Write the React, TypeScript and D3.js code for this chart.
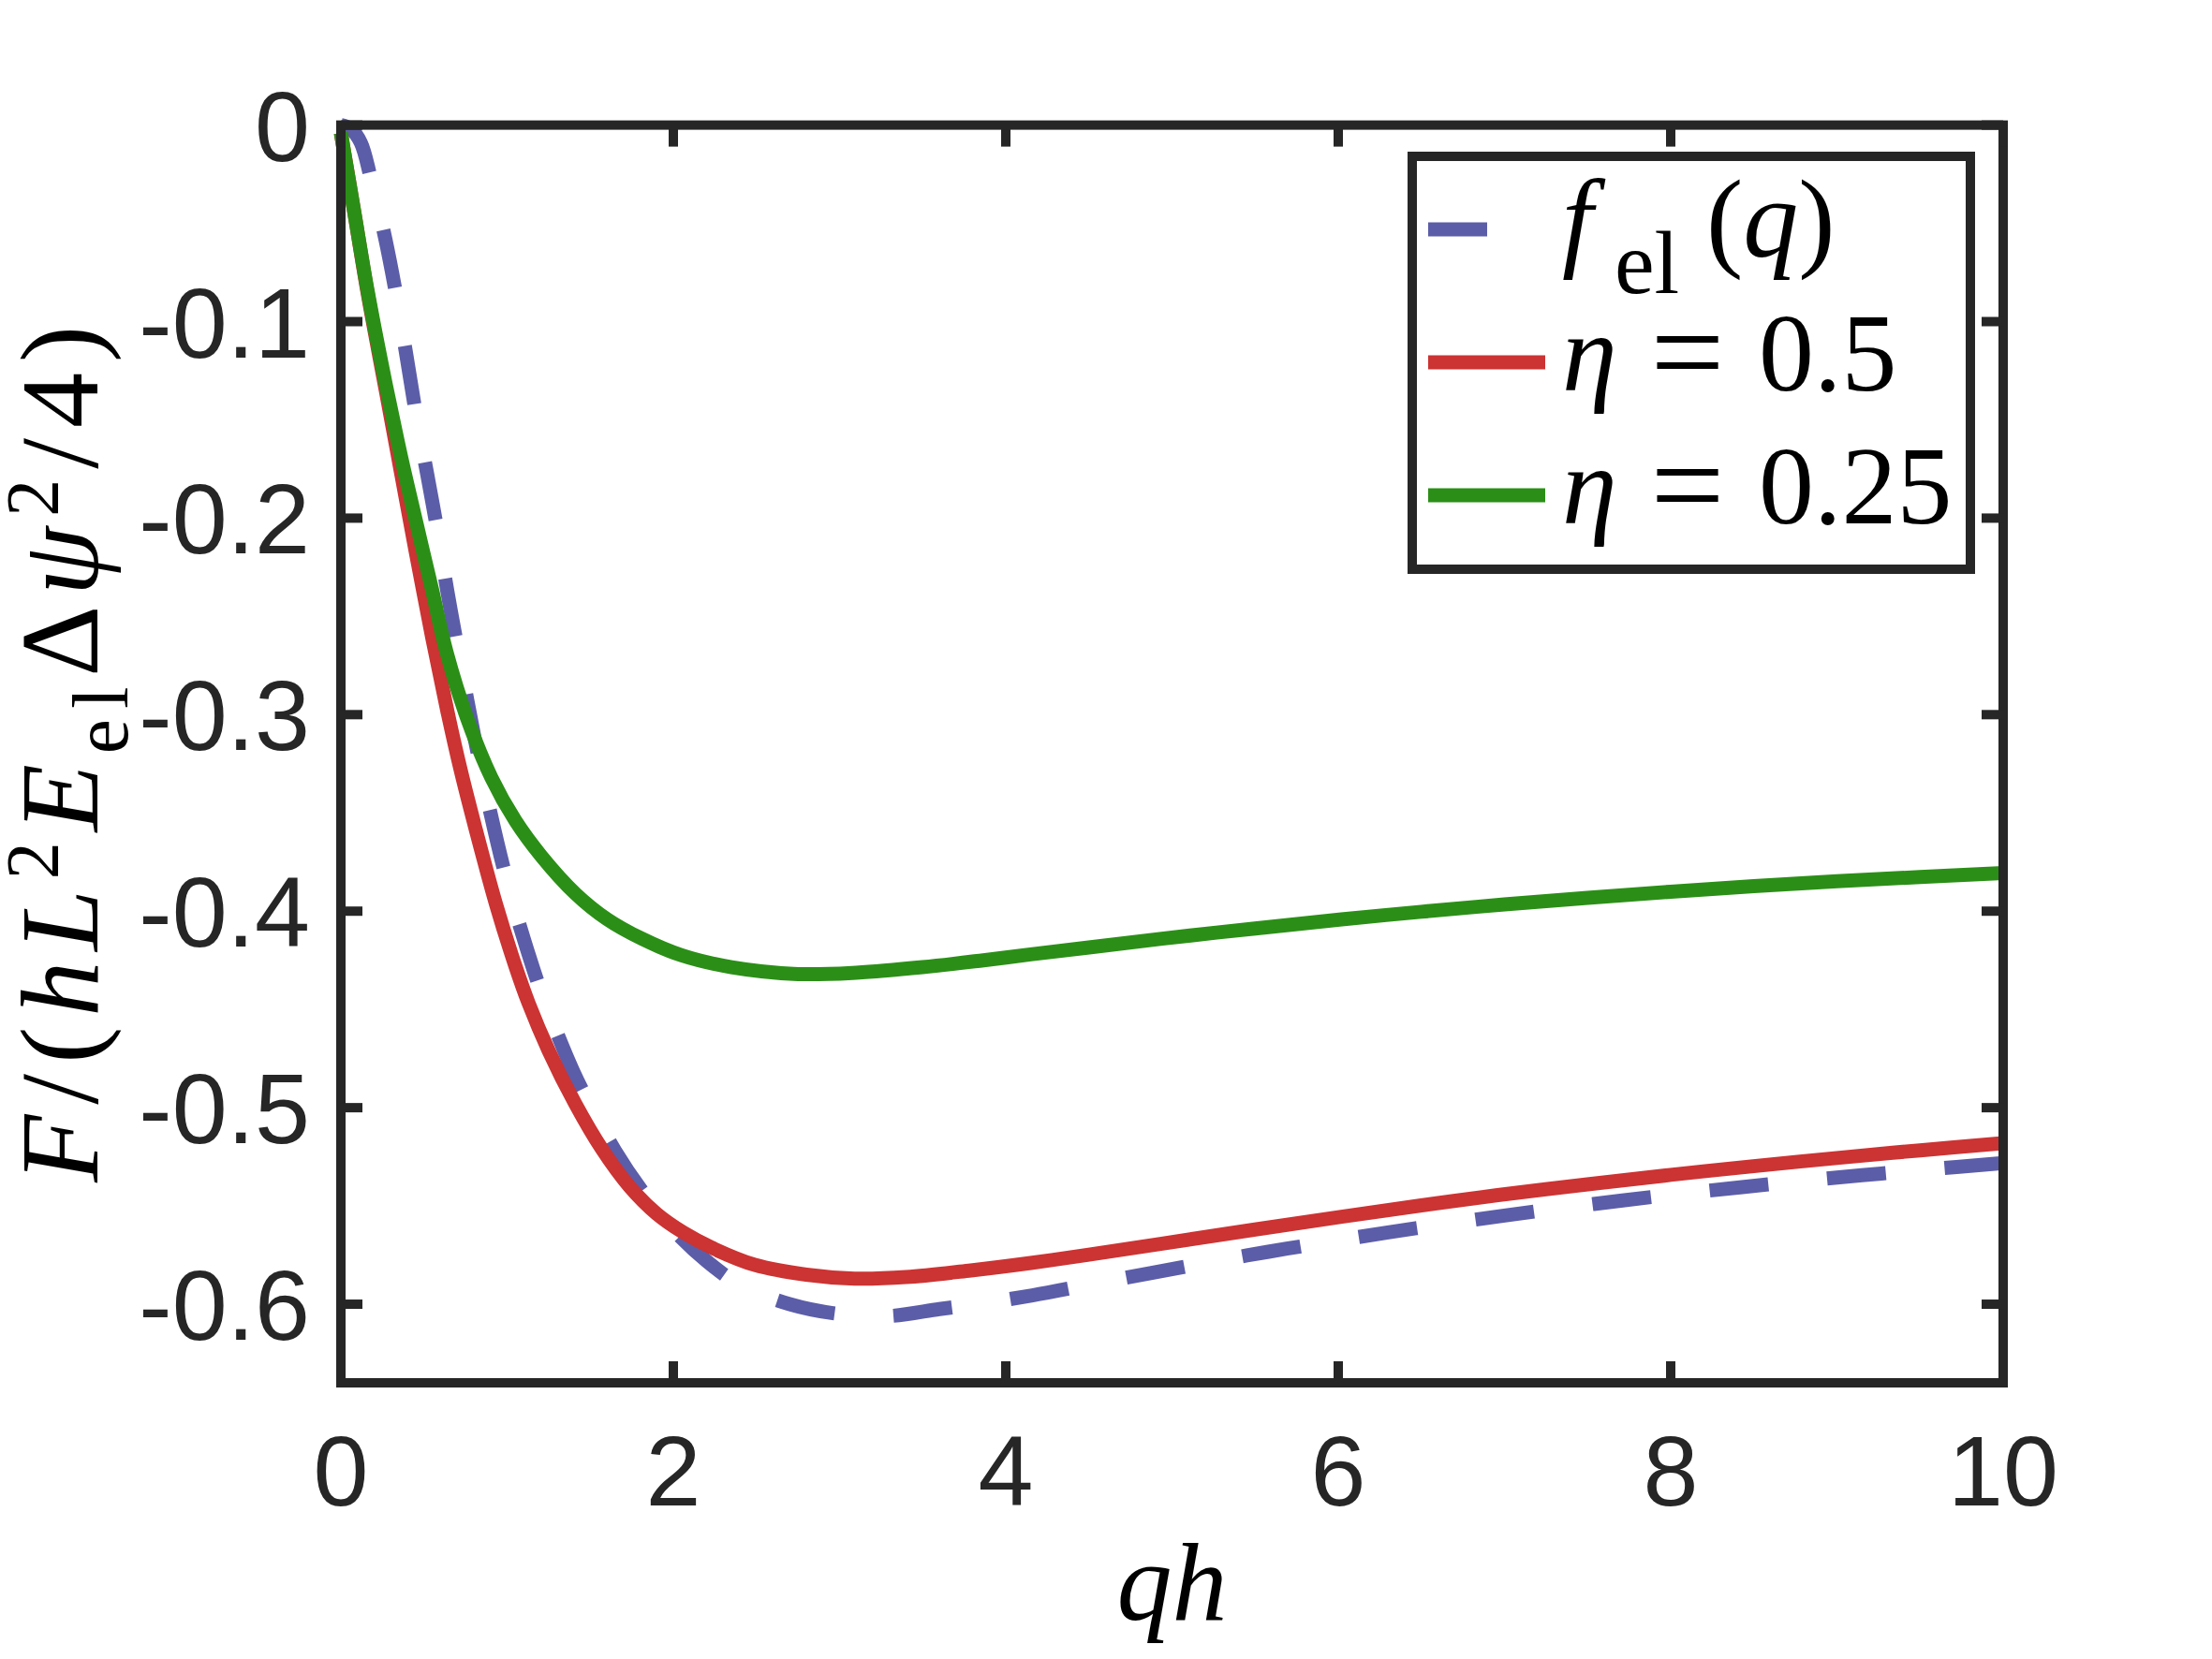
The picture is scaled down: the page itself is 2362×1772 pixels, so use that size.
import * as d3 from "d3";

// f_el(q), dashed reference curve
const felQ = [0, 0.06, 0.12, 0.18, 0.26, 0.33, 0.39, 0.45, 0.52, 0.58, 0.64, 0.7, 0.8, 0.9, 1.0, 1.1, 1.2, 1.3, 1.4, 1.5, 1.65, 1.8, 2.0, 2.2, 2.4, 2.7, 3.0, 3.3, 3.6, 3.8, 4.16, 4.5, 4.87, 5.22, 5.58, 5.94, 6.29, 6.65, 7.0, 7.36, 7.71, 8.07, 8.43, 8.79, 9.15, 9.51, 10];
const felF = [0, -0.002, -0.009, -0.027, -0.055, -0.085, -0.115, -0.146, -0.178, -0.206, -0.237, -0.265, -0.31, -0.35, -0.385, -0.414, -0.44, -0.462, -0.482, -0.499, -0.522, -0.541, -0.562, -0.578, -0.59, -0.6, -0.605, -0.606, -0.6025, -0.6003, -0.5955, -0.5901, -0.5842, -0.5787, -0.5733, -0.5683, -0.5636, -0.5591, -0.5549, -0.5509, -0.5472, -0.5437, -0.5404, -0.5373, -0.5344, -0.5317, -0.5282];

// eta = 0.5
const eta05Q = [0, 0.08, 0.16, 0.27, 0.36, 0.45, 0.55, 0.64, 0.72, 0.81, 0.935, 1.05, 1.13, 1.25, 1.41, 1.57, 1.735, 1.9, 2.06, 2.25, 2.49, 2.8, 3.09, 3.4, 3.79, 4.15, 4.5, 4.94, 5.5, 6.02, 6.5, 6.96, 7.5, 8.0, 8.47, 9.0, 9.5, 10];
const eta05F = [-0.004, -0.044, -0.085, -0.135, -0.176, -0.217, -0.261, -0.298, -0.328, -0.358, -0.397, -0.428, -0.447, -0.471, -0.498, -0.521, -0.54, -0.554, -0.5635, -0.572, -0.58, -0.585, -0.587, -0.5862, -0.5828, -0.579, -0.5748, -0.5692, -0.562, -0.5555, -0.5497, -0.5445, -0.539, -0.5342, -0.53, -0.5256, -0.5217, -0.518];

// eta = 0.25
const eta025Q = [0, 0.08, 0.16, 0.27, 0.36, 0.45, 0.55, 0.635, 0.76, 0.905, 1.05, 1.206, 1.41, 1.6, 1.81, 2.05, 2.35, 2.75, 3.1, 3.5, 3.865, 4.15, 4.5, 4.94, 5.5, 6.02, 6.5, 7.0, 7.5, 8.0, 8.5, 9.0, 9.5, 10];
const eta025F = [-0.004, -0.044, -0.084, -0.132, -0.168, -0.201, -0.237, -0.268, -0.302, -0.332, -0.354, -0.372, -0.391, -0.404, -0.414, -0.4225, -0.4285, -0.432, -0.4313, -0.4285, -0.425, -0.422, -0.4185, -0.414, -0.4088, -0.4042, -0.4003, -0.3966, -0.3932, -0.3901, -0.3873, -0.3848, -0.3826, -0.3806];

const xTicks = [0, 2, 4, 6, 8, 10];
const yTicks = [0, -0.1, -0.2, -0.3, -0.4, -0.5, -0.6];
const yTickLabels = ["0", "-0.1", "-0.2", "-0.3", "-0.4", "-0.5", "-0.6"];

const AX = "#262626";
const SANS = "'Liberation Sans', Arial, Helvetica, sans-serif";
const SERIF = "'Liberation Serif', 'Times New Roman', serif";

const series = [
  { q: felQ, f: felF, color: "#5c5da8", dash: "63 63" },
  { q: eta05Q, f: eta05F, color: "#cc3333", dash: null },
  { q: eta025Q, f: eta025F, color: "#2b8f17", dash: null },
];

export default function App() {
  const x = d3.scaleLinear().domain([0, 10]).range([364, 2139]);
  const y = d3.scaleLinear().domain([-0.64, 0]).range([1477, 133.6]);

  const line = d3
    .line<[number, number]>()
    .x((d) => x(d[0]))
    .y((d) => y(d[1]))
    .curve(d3.curveCatmullRom.alpha(0.5));

  const [x0, x1] = x.range();
  const [yb, yt] = y.range();
  const tick = 23;

  // legend layout
  const lg = { left: 1508, right: 2104, top: 167, bottom: 608 };
  const rows = [245, 387, 529];
  const mathSize = 118;

  return (
    <svg
      width={2362}
      height={1772}
      style={{ position: "absolute", left: 0, top: 0, background: "#fff" }}
    >
      <rect x={0} y={0} width={2362} height={1772} fill="#fff" />

      {/* curves */}
      {series.map((s, i) => (
        <path
          key={i}
          d={line(s.q.map((q, j) => [q, s.f[j]]) as [number, number][]) || ""}
          fill="none"
          stroke={s.color}
          strokeWidth={15}
          strokeDasharray={s.dash || undefined}
          strokeLinejoin="round"
        />
      ))}

      {/* axes box */}
      <rect
        x={x0}
        y={yt}
        width={x1 - x0}
        height={yb - yt}
        fill="none"
        stroke={AX}
        strokeWidth={10}
      />

      {/* ticks */}
      {xTicks.map((t) => (
        <g key={"xt" + t}>
          <line x1={x(t)} x2={x(t)} y1={yb} y2={yb - tick} stroke={AX} strokeWidth={10} />
          <line x1={x(t)} x2={x(t)} y1={yt} y2={yt + tick} stroke={AX} strokeWidth={10} />
          <text
            x={x(t)}
            y={1608}
            textAnchor="middle"
            fontFamily={SANS}
            fontSize={106}
            fill={AX}
          >
            {t}
          </text>
        </g>
      ))}
      {yTicks.map((t, i) => (
        <g key={"yt" + t}>
          <line x1={x0} x2={x0 + tick} y1={y(t)} y2={y(t)} stroke={AX} strokeWidth={10} />
          <line x1={x1} x2={x1 - tick} y1={y(t)} y2={y(t)} stroke={AX} strokeWidth={10} />
          <text
            x={331}
            y={y(t) + 38}
            textAnchor="end"
            fontFamily={SANS}
            fontSize={106}
            fill={AX}
          >
            {yTickLabels[i]}
          </text>
        </g>
      ))}

      {/* x label */}
      <text
        x={(x0 + x1) / 2}
        y={1730}
        textAnchor="middle"
        fontFamily={SERIF}
        fontStyle="italic"
        fontSize={mathSize}
        fill="#000"
      >
        qh
      </text>

      {/* y label */}
      <text
        transform={`translate(104,${(yt + yb) / 2}) rotate(-90)`}
        textAnchor="middle"
        fontFamily={SERIF}
        fontSize={mathSize}
        fill="#000"
        textLength={915}
        lengthAdjust="spacing"
      >
        <tspan fontStyle="italic">F</tspan>
        <tspan>/(</tspan>
        <tspan fontStyle="italic">hL</tspan>
        <tspan fontSize={80} dy={-42}>2</tspan>
        <tspan fontStyle="italic" dy={42}>E</tspan>
        <tspan fontSize={84} dy={32}>el</tspan>
        <tspan dy={-32}>Δ</tspan>
        <tspan fontStyle="italic">ψ</tspan>
        <tspan fontSize={80} dy={-42}>2</tspan>
        <tspan dy={42}>/4)</tspan>
      </text>

      {/* legend */}
      <rect
        x={lg.left}
        y={lg.top}
        width={lg.right - lg.left}
        height={lg.bottom - lg.top}
        fill="#fff"
        stroke={AX}
        strokeWidth={10}
      />
      {series.map((s, i) => (
        <line
          key={"lgl" + i}
          x1={1525}
          x2={1650}
          y1={rows[i]}
          y2={rows[i]}
          stroke={s.color}
          strokeWidth={15}
          strokeDasharray={s.dash || undefined}
        />
      ))}
      <g fontFamily={SERIF} fill="#000">
        <text x={1668} y={rows[0] + 29} fontSize={mathSize} fontStyle="italic">f</text>
        <text x={1724} y={rows[0] + 68} fontSize={96}>el</text>
        <text x={1822} y={rows[0] + 29} fontSize={mathSize}>
          (<tspan fontStyle="italic">q</tspan>)
        </text>

        <text x={1668} y={rows[1] + 30} fontSize={mathSize} fontStyle="italic">η</text>
        <text x={1802} y={rows[1] + 36} fontSize={140} textAnchor="middle">=</text>
        <text x={1878} y={rows[1] + 30} fontSize={mathSize}>0.5</text>

        <text x={1668} y={rows[2] + 30} fontSize={mathSize} fontStyle="italic">η</text>
        <text x={1802} y={rows[2] + 36} fontSize={140} textAnchor="middle">=</text>
        <text x={1878} y={rows[2] + 30} fontSize={mathSize}>0.25</text>
      </g>
    </svg>
  );
}
